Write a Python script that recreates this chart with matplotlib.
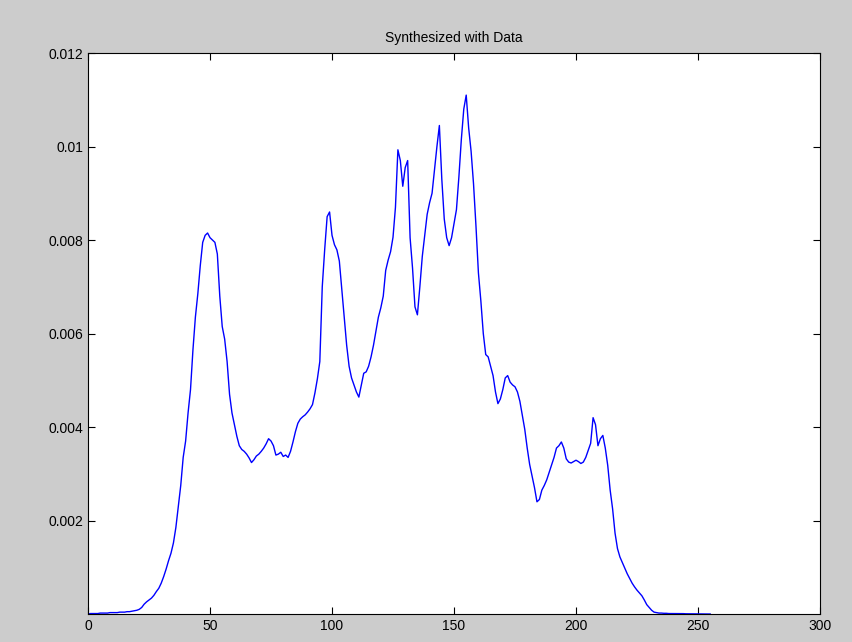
import numpy as np
import matplotlib
matplotlib.use("Agg")
import matplotlib.pyplot as plt

# gray levels 0..255 and estimated density (in units of 1e-4)
levels = np.arange(256)
density_e4 = [
    0, 0.1, 0.1, 0.1, 0.1, 0.2, 0.2, 0.2, 0.2, 0.3,
    0.3, 0.3, 0.3, 0.4, 0.4, 0.4, 0.5, 0.5, 0.6, 0.7,
    0.8, 1.0, 1.4, 2.1, 2.6, 3.0, 3.4, 4.0, 4.8, 5.5,
    6.6, 8.0, 9.6, 11.4, 13.0, 15.2, 18.5, 23.0, 27.5, 33.5,
    37.0, 43.0, 48.0, 56.5, 63.5, 68.5, 74.5, 79.5, 81.0, 81.5,
    80.5, 80.0, 79.5, 77.0, 68.0, 61.5, 58.8, 54.0, 47.0, 43.0,
    40.5, 38.0, 36.0, 35.2, 34.8, 34.2, 33.4, 32.4, 33.0, 33.8,
    34.2, 34.8, 35.5, 36.4, 37.5, 37.0, 36.0, 34.0, 34.2, 34.6,
    33.7, 34.0, 33.5, 34.8, 36.8, 39.0, 40.8, 41.7, 42.2, 42.6,
    43.2, 43.9, 44.8, 47.3, 50.3, 54.0, 70.0, 78.0, 85.0, 86.0,
    81.0, 79.0, 77.9, 75.5, 69.5, 63.5, 57.5, 53.0, 50.5, 49.0,
    47.5, 46.4, 49.0, 51.5, 51.8, 53.0, 55.0, 57.5, 60.5, 63.5,
    65.5, 68.0, 73.5, 75.7, 77.5, 80.6, 87.0, 99.3, 97.0, 91.5,
    95.5, 97.0, 80.5, 74.0, 65.7, 64.0, 70.0, 76.5, 81.0, 85.5,
    88.0, 90.0, 95.0, 100.0, 104.5, 93.0, 84.5, 80.5, 78.8, 80.5,
    83.5, 86.5, 93.5, 101.5, 108.0, 111.0, 104.0, 99.0, 92.0, 83.0,
    73.0, 67.0, 60.0, 55.5, 55.0, 53.0, 51.0, 47.5, 45.0, 46.0,
    48.0, 50.5, 51.0, 49.6, 49.0, 48.6, 47.5, 45.5, 42.5, 39.5,
    35.5, 32.0, 29.5, 27.0, 24.0, 24.5, 26.5, 27.5, 28.7, 30.3,
    31.9, 33.5, 35.5, 36.0, 36.8, 35.5, 33.2, 32.5, 32.3, 32.6,
    32.9, 32.6, 32.2, 32.5, 33.5, 35.0, 36.5, 42.0, 40.5, 36.0,
    37.5, 38.2, 35.5, 31.8, 26.5, 22.5, 17.3, 14.0, 12.2, 11.0,
    9.8, 8.6, 7.6, 6.6, 5.8, 5.1, 4.5, 3.9, 3.0, 2.0,
    1.4, 0.8, 0.4, 0.3, 0.2, 0.2, 0.15, 0.15, 0.1, 0.1,
    0.1, 0.1, 0.1, 0.08, 0.08, 0.05, 0.05, 0.05, 0.03, 0.03,
    0.02, 0.02, 0.01, 0.01, 0, 0,
]
density = np.array(density_e4) * 1e-4

x_ticks = [0, 50, 100, 150, 200, 250, 300]
y_ticks = [0.002, 0.004, 0.006, 0.008, 0.01, 0.012]
y_labels = ["0.002", "0.004", "0.006", "0.008", "0.01", "0.012"]

plt.rcParams["font.family"] = ["Liberation Sans", "DejaVu Sans"]

fig = plt.figure(figsize=(8.53, 6.42), dpi=100, facecolor="#cccccc")
ax = fig.add_axes([0.1032, 0.0436, 0.8581, 0.8738])
ax.plot(levels, density, color="#0000ff", linewidth=1.0)

ax.set_xlim(0, 300)
ax.set_ylim(0, 0.012)
ax.set_xticks(x_ticks)
ax.set_yticks(y_ticks)
ax.set_yticklabels(y_labels)
ax.tick_params(direction="in", top=True, right=True, length=5,
               labelsize=10, colors="black")
for s in ax.spines.values():
    s.set_linewidth(0.8)
ax.set_title("Synthesized with Data", fontsize=10, pad=8)

fig.savefig("out.png", dpi=100, facecolor=fig.get_facecolor())
